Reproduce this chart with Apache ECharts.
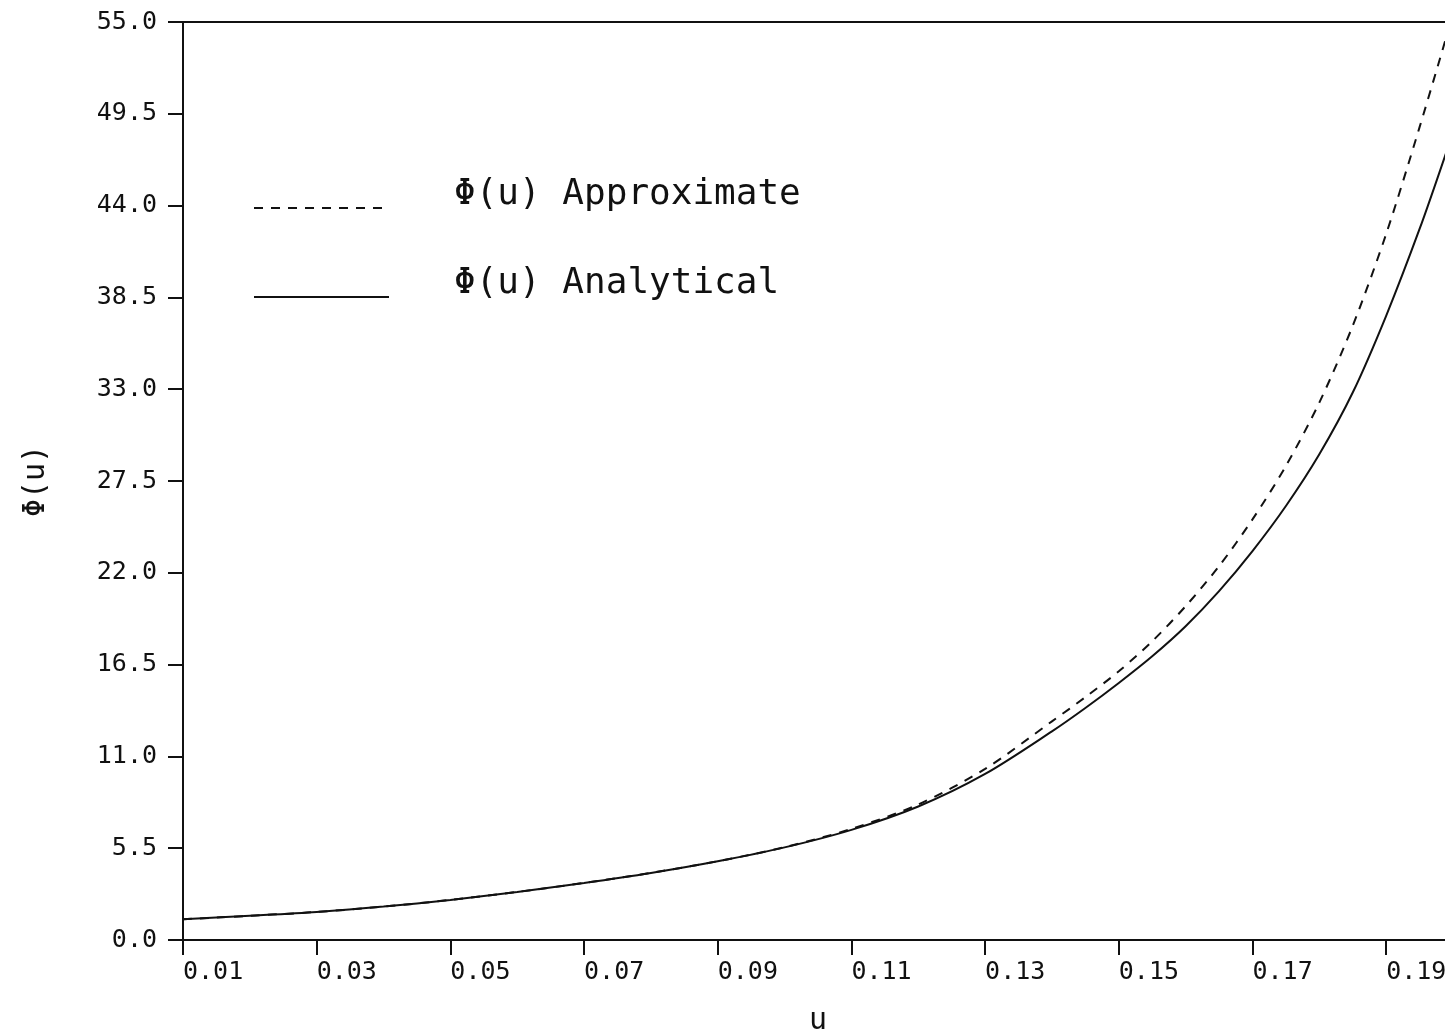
<!DOCTYPE html>
<html>
<head>
<meta charset="utf-8">
<title>Φ(u) approximate vs analytical</title>
<script src="https://cdn.jsdelivr.net/npm/echarts@6/dist/echarts.min.js"></script>
<style>
  html, body { margin: 0; padding: 0; background: #ffffff; overflow: hidden; }
  #chart { width: 1445px; height: 1035px; }
</style>
</head>
<body>
<div id="chart"></div>
<script>
// Sample points of u
const uValues = [0.010, 0.020, 0.030, 0.040, 0.050, 0.060, 0.070, 0.080, 0.090, 0.100,
                 0.110, 0.120, 0.130, 0.140, 0.145, 0.150, 0.155, 0.160, 0.165, 0.170,
                 0.175, 0.180, 0.185, 0.190, 0.195, 0.199];

// Φ(u) from the approximate expression
const phiApproximate = [1.24, 1.45, 1.68, 2.00, 2.40, 2.88, 3.42, 4.02, 4.72, 5.56,
                        6.66, 8.12, 10.25, 13.1, 14.55, 16.1, 17.9, 20.0, 22.4, 25.2,
                        28.4, 32.2, 36.8, 42.3, 48.7, 54.1];

// Φ(u) from the analytical solution
const phiAnalytical = [1.24, 1.45, 1.68, 2.00, 2.40, 2.88, 3.42, 4.02, 4.72, 5.55,
                       6.60, 8.00, 9.95, 12.5, 13.9, 15.4, 17.0, 18.8, 20.9, 23.3,
                       26.0, 29.1, 32.8, 37.4, 42.6, 47.2];

const seriesNames = ['\u03A6(u) Approximate', '\u03A6(u) Analytical'];
const xAxisTitle = 'u';
const yAxisTitle = '\u03A6(u)';

const FONT = '"DejaVu Sans Mono", "Liberation Mono", monospace';
const INK = '#111111';

const pairs = (ys) => uValues.map((u, i) => [u, ys[i]]);

const chart = echarts.init(document.getElementById('chart'), null, { renderer: 'canvas' });

chart.setOption({
  backgroundColor: '#ffffff',
  animation: false,
  // the plot runs a little past the right edge of the page
  grid: { left: 183, top: 22, width: 1270, height: 918, outerBoundsMode: 'none', containLabel: false },
  legend: {
    orient: 'vertical',
    left: 248,
    top: 172,
    itemWidth: 135,
    itemHeight: 12,
    itemGap: 27,
    selectedMode: false,
    data: seriesNames,
    itemStyle: { color: 'transparent', borderColor: 'transparent', borderWidth: 0 },
    // an empty second line lifts the label so the sample line sits at its baseline
    formatter: (name) => name + '\n ',
    textStyle: {
      fontFamily: FONT,
      fontSize: 36,
      color: INK,
      lineHeight: 26,
      padding: [0, 0, 0, 60]
    }
  },
  xAxis: [
    {
      type: 'value',
      min: 0.01,
      max: 0.20,
      interval: 0.02,
      name: xAxisTitle,
      nameLocation: 'middle',
      nameGap: 66,
      nameTextStyle: { fontFamily: FONT, fontSize: 30, color: INK },
      axisLine: { show: true, onZero: false, lineStyle: { color: INK, width: 2 } },
      axisTick: { show: true, inside: false, length: 15, lineStyle: { color: INK, width: 2 } },
      axisLabel: {
        show: true,
        showMaxLabel: false,
        align: 'left',
        margin: 20,
        fontFamily: FONT,
        fontSize: 25,
        color: INK,
        formatter: (v) => v.toFixed(2)
      },
      splitLine: { show: false }
    },
    {
      type: 'value',
      position: 'top',
      min: 0.01,
      max: 0.20,
      axisLine: { show: true, onZero: false, lineStyle: { color: INK, width: 2 } },
      axisTick: { show: false },
      axisLabel: { show: false },
      splitLine: { show: false }
    }
  ],
  yAxis: {
    type: 'value',
    min: 0,
    max: 55,
    interval: 5.5,
    name: yAxisTitle,
    nameLocation: 'middle',
    nameRotate: 90,
    nameGap: 132,
    nameTextStyle: { fontFamily: FONT, fontSize: 30, color: INK },
    axisLine: { show: true, onZero: false, lineStyle: { color: INK, width: 2 } },
    axisTick: { show: true, inside: false, length: 15, lineStyle: { color: INK, width: 2 } },
    axisLabel: {
      margin: 26,
      fontFamily: FONT,
      fontSize: 25,
      color: INK,
      formatter: (v) => v.toFixed(1)
    },
    splitLine: { show: false }
  },
  series: [
    {
      name: seriesNames[0],
      type: 'line',
      xAxisIndex: 0,
      data: pairs(phiApproximate),
      smooth: 0.3,
      showSymbol: false,
      symbol: 'none',
      lineStyle: { color: INK, width: 2, type: [9, 8] },
      itemStyle: { color: INK }
    },
    {
      name: seriesNames[1],
      type: 'line',
      xAxisIndex: 0,
      data: pairs(phiAnalytical),
      smooth: 0.3,
      showSymbol: false,
      symbol: 'none',
      lineStyle: { color: INK, width: 2, type: 'solid' },
      itemStyle: { color: INK }
    }
  ]
});
</script>
</body>
</html>
